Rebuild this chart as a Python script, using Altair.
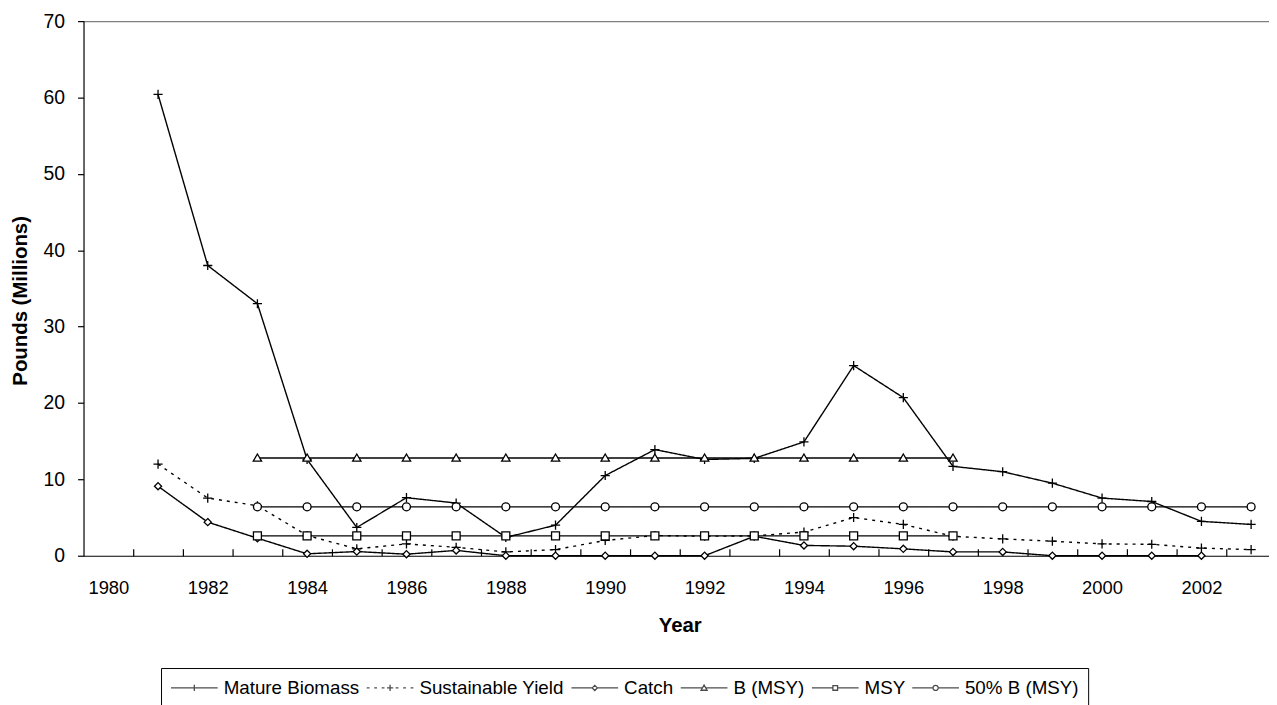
import altair as alt
import pandas as pd

# ---------------- data ----------------
series_names = ["Mature Biomass", "Sustainable Yield", "Catch", "B (MSY)", "MSY", "50% B (MSY)"]

years_main = [1981, 1982, 1983, 1984, 1985, 1986, 1987, 1988, 1989, 1990, 1991, 1992,
              1993, 1994, 1995, 1996, 1997, 1998, 1999, 2000, 2001, 2002, 2003]
mature_biomass = [60.4, 38.0, 33.0, 12.6, 3.7, 7.6, 6.9, 2.4, 4.0, 10.5, 13.9, 12.6,
                  12.75, 14.9, 24.9, 20.7, 11.7, 11.0, 9.5, 7.55, 7.1, 4.5, 4.1]
sustainable_yield = [12.0, 7.55, 6.55, 2.65, 0.9, 1.55, 1.1, 0.5, 0.8, 2.0, 2.65, 2.55,
                     2.6, 3.1, 5.0, 4.1, 2.55, 2.2, 1.9, 1.55, 1.5, 1.0, 0.8]

years_catch = [1981, 1982, 1983, 1984, 1985, 1986, 1987, 1988, 1989, 1990, 1991,
               1992, 1993, 1994, 1995, 1996, 1997, 1998, 1999, 2000, 2001, 2002]
catch = [9.1, 4.4, 2.3, 0.25, 0.55, 0.2, 0.7, 0.0, 0.0, 0.0, 0.0,
         0.0, 2.55, 1.35, 1.25, 0.9, 0.5, 0.5, 0.0, 0.0, 0.0, 0.0]

years_ref = [1983, 1984, 1985, 1986, 1987, 1988, 1989, 1990, 1991, 1992, 1993,
             1994, 1995, 1996, 1997]
b_msy = [12.8, 12.8, 12.8, 12.8, 12.8, 12.8, 12.8, 12.8, 12.8, 12.8, 12.8,
         12.8, 12.8, 12.8, 12.8]
msy = [2.6, 2.6, 2.6, 2.6, 2.6, 2.6, 2.6, 2.6, 2.6, 2.6, 2.6,
       2.6, 2.6, 2.6, 2.6]

years_half = [1983, 1984, 1985, 1986, 1987, 1988, 1989, 1990, 1991, 1992, 1993,
              1994, 1995, 1996, 1997, 1998, 1999, 2000, 2001, 2002, 2003]
half_b_msy = [6.4, 6.4, 6.4, 6.4, 6.4, 6.4, 6.4, 6.4, 6.4, 6.4, 6.4,
              6.4, 6.4, 6.4, 6.4, 6.4, 6.4, 6.4, 6.4, 6.4, 6.4]

label_years = [1980, 1982, 1984, 1986, 1988, 1990, 1992, 1994, 1996, 1998, 2000, 2002]
tick_years = [1980.5, 1981.5, 1982.5, 1983.5, 1984.5, 1985.5, 1986.5, 1987.5, 1988.5,
              1989.5, 1990.5, 1991.5, 1992.5, 1993.5, 1994.5, 1995.5, 1996.5, 1997.5,
              1998.5, 1999.5, 2000.5, 2001.5, 2002.5]
y_ticks = [0, 10, 20, 30, 40, 50, 60, 70]

rows = []
for name, yrs, vals in [
    ("Mature Biomass", years_main, mature_biomass),
    ("Sustainable Yield", years_main, sustainable_yield),
    ("Catch", years_catch, catch),
    ("B (MSY)", years_ref, b_msy),
    ("MSY", years_ref, msy),
    ("50% B (MSY)", years_half, half_b_msy),
]:
    for yr, v in zip(yrs, vals):
        rows.append({"series": name, "year": yr, "value": v})
df = pd.DataFrame(rows)

# ---------------- styling ----------------
FONT = "Liberation Sans"
PLOT_W = 1193
PLOT_H = 538
x_scale = alt.Scale(domain=[1979.5, 1979.5 + PLOT_W / 50.0], nice=False, zero=False)
y_scale = alt.Scale(domain=[0, 70], nice=False, zero=True)

y_enc = alt.Y(
    "value:Q",
    scale=y_scale,
    axis=alt.Axis(
        values=y_ticks, orient="left", grid=False,
        domainColor="black", domainWidth=1.2,
        tickColor="black", tickSize=6, tickWidth=1.2,
        labelFont=FONT, labelFontSize=19.5, labelColor="black", labelPadding=13,
        title="Pounds (Millions)", titleFont=FONT, titleFontSize=20.5,
        titleFontWeight="bold", titleColor="black",
        titleAngle=270, titleBaseline="alphabetic", titleAlign="center",
        titleX=-57, titleY=281,
    ),
)

# marker shapes for the data points
marker_paths = [
    "M-1.15,0L1.15,0M0,-1.15L0,1.15",          # plus
    "M-1.15,0L1.15,0M0,-1.15L0,1.15",          # plus
    "M0,-0.9L0.9,0L0,0.9L-0.9,0Z",              # diamond
    "M0,-1L1.05,0.8L-1.05,0.8Z",                # triangle
    "M-1,-1L1,-1L1,1L-1,1Z",                    # square
    "circle",                                    # circle
]

# legend symbols: line + small marker
dots = "".join("M%.2f,0L%.2f,0" % (s, s + 0.12) for s in [-1.0, -0.68, -0.36, 0.24, 0.56, 0.88])
legend_paths = [
    "M-1,0L1,0M0,-0.13L0,0.13",
    dots + "M-0.13,0L0.13,0M0,-0.13L0,0.13",
    "M-1,0L-0.11,0M0.11,0L1,0M-0.11,0L0,-0.11L0.11,0L0,0.11Z",
    "M-1,0L-0.07,0M0.07,0L1,0M0,-0.12L0.13,0.1L-0.13,0.1Z",
    "M-1,0L-0.1,0M0.1,0L1,0M-0.1,-0.1L0.1,-0.1L0.1,0.1L-0.1,0.1Z",
    "M-1,0L-0.11,0M0.11,0L1,0M-0.11,0A0.11,0.11 0 1,1 0.11,0A0.11,0.11 0 1,1 -0.11,0",
]
dash_styles = [[1, 0], [3, 5], [1, 0], [1, 0], [1, 0], [1, 0]]

lines = alt.Chart(df).mark_line(color="black", strokeWidth=1.4).encode(
    x=alt.X(
        "year:Q", scale=x_scale,
        axis=alt.Axis(
            orient="bottom", values=label_years, format="d", grid=False,
            domainColor="black", domainWidth=1.2, ticks=False, tickSize=0,
            labelFont=FONT, labelFontSize=18.5, labelColor="black",
            labelPadding=38, labelBaseline="alphabetic", labelFlush=False,
            labelOverlap=False,
            title="Year", titleFont=FONT, titleFontSize=20.5, titleFontWeight="bold",
            titleColor="black", titleBaseline="alphabetic", titleX=600, titleY=76,
        ),
    ),
    y=y_enc,
    detail="series:N",
    strokeDash=alt.StrokeDash("series:N",
                              scale=alt.Scale(domain=series_names, range=dash_styles),
                              legend=None),
)

points = alt.Chart(df).mark_point(
    filled=True, fill="white", stroke="black", strokeWidth=1.3, size=64, opacity=1
).encode(
    x=alt.X(
        "year:Q", scale=x_scale,
        axis=alt.Axis(
            orient="bottom", offset=-7, values=tick_years, grid=False,
            domain=False, labels=False, ticks=True, tickSize=7,
            tickColor="black", tickWidth=1.2, title=None,
        ),
    ),
    y=y_enc,
    shape=alt.Shape("series:N",
                    scale=alt.Scale(domain=series_names, range=marker_paths),
                    legend=None),
)

legend_layer = alt.Chart(df).transform_filter("false").mark_point(
    filled=False, color="black", strokeWidth=1.3
).encode(
    x=alt.X(
        "year:Q", scale=x_scale,
        axis=alt.Axis(
            orient="top", grid=False, domain=True, domainColor="#808080",
            domainWidth=1.5, ticks=False, labels=False, title=None,
        ),
    ),
    y=y_enc,
    shape=alt.Shape(
        "series:N",
        scale=alt.Scale(domain=series_names, range=legend_paths),
        legend=alt.Legend(
            title=None, orient="none", legendX=78, legendY=651,
            direction="horizontal", columns=6,
            symbolSize=2209, symbolStrokeWidth=1.3, symbolStrokeColor="black",
            symbolFillColor="transparent",
            labelFont=FONT, labelFontSize=18.9, labelColor="black",
            labelOffset=5, columnPadding=6, labelLimit=0,
            clipHeight=22, padding=9,
            strokeColor="black", fillColor="white",
        ),
    ),
)

chart = (
    alt.layer(lines, points, legend_layer)
    .resolve_scale(shape="independent")
    .resolve_axis(x="independent")
    .properties(
        width=PLOT_W, height=PLOT_H,
        padding={"left": 76, "top": 11, "right": 0, "bottom": 148},
        autosize=alt.AutoSizeParams(type="none"),
        background="white",
    )
    .configure_view(stroke=None)
)

chart.save("out.html", embed_options={"renderer": "svg", "actions": False})
